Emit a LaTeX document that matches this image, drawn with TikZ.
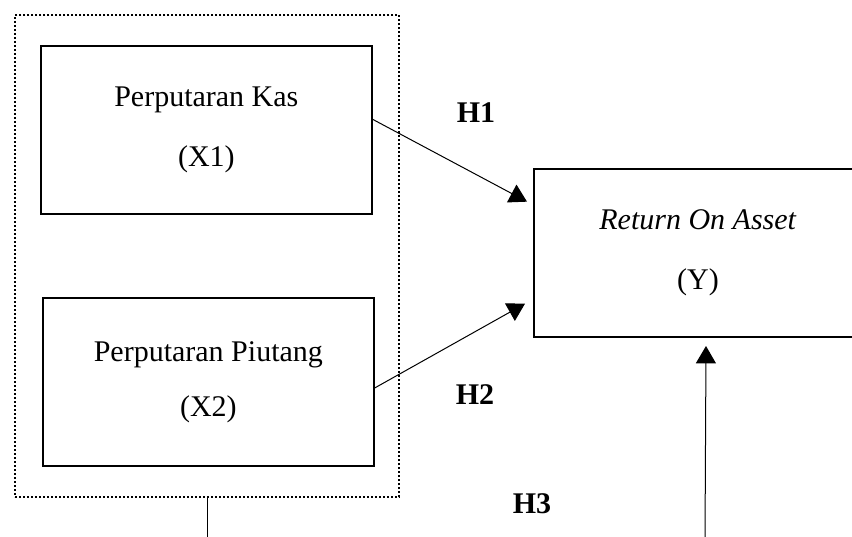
\documentclass[tikz,border=0pt]{standalone}
\usepackage{fontspec}
\setmainfont{Liberation Serif}
\usetikzlibrary{arrows.meta, positioning, fit}

\begin{document}
\begin{tikzpicture}[x=0.75pt, y=-0.75pt, font=\fontsize{22.5}{27}\selectfont,
    varbox/.style={draw, rectangle, line width=1.5pt, align=center, minimum width=248pt, minimum height=126pt},
    grupo/.style={draw, rectangle, line width=1.6pt, dash pattern=on 1.4pt off 1.6pt},
    hipotesis/.style={-{Triangle[width=15pt, length=13pt]}, line width=0.75pt},
    etiqueta/.style={font=\fontsize{22.5}{27}\selectfont\bfseries}]
    \clip (0,0) rectangle (852,536);

    % Definir nodos de variables
    \node (kas) [varbox, anchor=north west] at (40,45) {Perputaran Kas\\[18pt](X1)};
    \node (piutang) [varbox, below=61.5pt of kas, xshift=1.5pt] {Perputaran Piutang\\[14pt](X2)};
    \node (roa) [varbox, minimum width=246pt, anchor=north west] at (533,168) {\textit{Return On Asset}\\[18pt](Y)};
    \node (grupo) [grupo, fit=(kas)(piutang), inner xsep=18.5pt, inner ysep=22.5pt] {};

    % Etiquetas de hipotesis
    \node (h1) [etiqueta] at (476,113) {H1};
    \node (h2) [etiqueta] at (475,395) {H2};
    \node (h3) [etiqueta] at (532,504) {H3};

    % Extremos inferiores
    \coordinate (pie1) at (205,540);
    \coordinate (pie2) at (705,540);

    % Dibujar conexiones
    \draw[hipotesis] ([yshift=8pt]kas.east) -- ([xshift=-4.5pt, yshift=38.5pt]roa.west);
    \draw[hipotesis] ([yshift=-4.5pt]piutang.east) -- ([xshift=-6pt, yshift=-38pt]roa.west);
    \draw[hipotesis] (pie2) -- ([xshift=6pt, yshift=-6pt]roa.south);
    \draw[line width=0.75pt] (grupo.south) -- (grupo.south |- pie1);
\end{tikzpicture}
\end{document}
